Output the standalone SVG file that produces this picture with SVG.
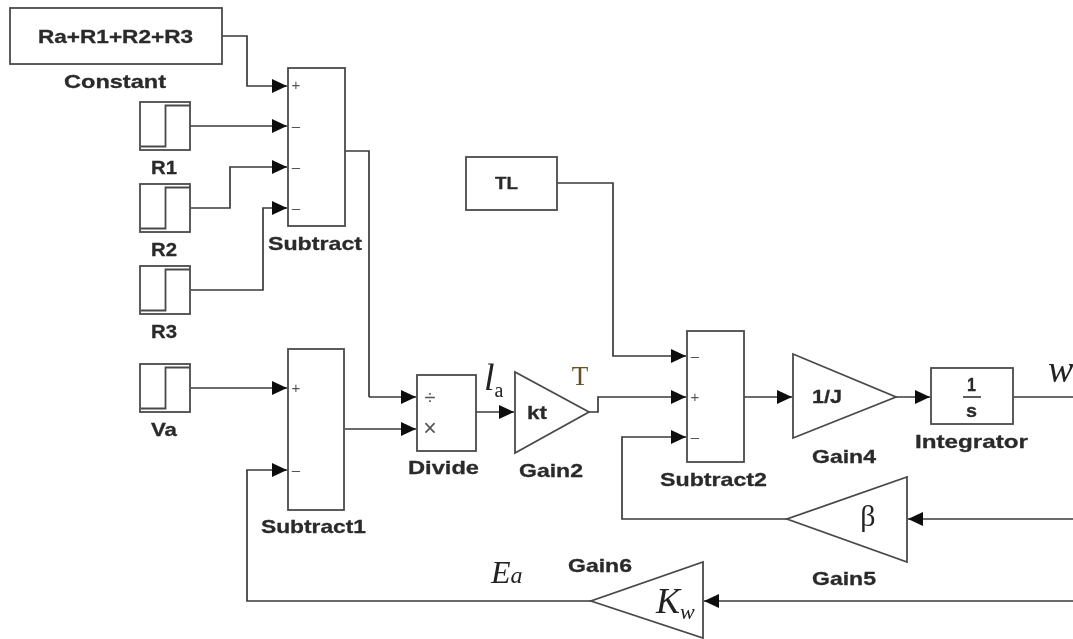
<svg xmlns="http://www.w3.org/2000/svg" width="1073" height="639" viewBox="0 0 1073 639">
<style>
.b{fill:#fff;stroke:#4a4a4a;stroke-width:1.8}
.i{fill:none;stroke:#4a4a4a;stroke-width:1.8}
.w{fill:none;stroke:#3a3a3a;stroke-width:1.7}
.l{font-family:"Liberation Sans",Arial,sans-serif;font-weight:bold;font-size:19px;fill:#2a2a2a;stroke:#2a2a2a;stroke-width:.3}
.s{font-family:"Liberation Sans",Arial,sans-serif;font-size:15px;fill:#555;text-anchor:middle}
.m{font-family:"Liberation Serif","Times New Roman",serif;fill:#222}
</style>
<defs>
<filter id="soft" filterUnits="userSpaceOnUse" x="0" y="0" width="1073" height="639"><feGaussianBlur stdDeviation="0.35"/></filter>
<marker id="a" markerUnits="userSpaceOnUse" markerWidth="16" markerHeight="14" refX="15" refY="7" orient="auto"><path d="M0 0L15 7L0 14Z" fill="#111"/></marker>
<g id="step"><rect class="b" x="0" y="0" width="50" height="48"/><path class="i" d="M1 44.5H25.5V3.5H50"/></g>
</defs>
<rect width="1073" height="639" fill="#fff"/>
<g filter="url(#soft)">
<g id="connectors">
<path class="w" marker-end="url(#a)" d="M222 36H247V86H287"/>
<path class="w" marker-end="url(#a)" d="M190 126H287"/>
<path class="w" marker-end="url(#a)" d="M191 208H230V167H287"/>
<path class="w" marker-end="url(#a)" d="M191 290H263V208H287"/>
<path class="w" d="M345 151H369V397"/>
<path class="w" marker-end="url(#a)" d="M369 397H416"/>
<path class="w" marker-end="url(#a)" d="M191 388H287"/>
<path class="w" marker-end="url(#a)" d="M345 429H416"/>
<path class="w" marker-end="url(#a)" d="M591 601H247V470H287"/>
<path class="w" marker-end="url(#a)" d="M476 412H514"/>
<path class="w" marker-end="url(#a)" d="M589 412H598V397H686"/>
<path class="w" marker-end="url(#a)" d="M557 183H613V356H686"/>
<path class="w" marker-end="url(#a)" d="M787 519H622V437H686"/>
<path class="w" marker-end="url(#a)" d="M744 397H792"/>
<path class="w" marker-end="url(#a)" d="M896 397H930"/>
<path class="w" d="M1013 397H1073"/>
<path class="w" marker-end="url(#a)" d="M1073 519H908"/>
<path class="w" marker-end="url(#a)" d="M1073 601H704"/>
</g>
<g id="constant"><rect class="b" x="10" y="8" width="212" height="56"/><text class="l" x="38" y="43" textLength="155" lengthAdjust="spacingAndGlyphs">Ra+R1+R2+R3</text><text class="l" x="64" y="88" textLength="102" lengthAdjust="spacingAndGlyphs">Constant</text></g>
<g id="r1"><use href="#step" x="140" y="102"/><text class="l" x="151" y="174" textLength="26" lengthAdjust="spacingAndGlyphs">R1</text></g>
<g id="r2"><use href="#step" x="140" y="184"/><text class="l" x="151" y="256" textLength="26" lengthAdjust="spacingAndGlyphs">R2</text></g>
<g id="r3"><use href="#step" x="140" y="266"/><text class="l" x="151" y="338" textLength="26" lengthAdjust="spacingAndGlyphs">R3</text></g>
<g id="va"><use href="#step" x="140" y="364"/><text class="l" x="151" y="436" textLength="26" lengthAdjust="spacingAndGlyphs">Va</text></g>
<g id="subtract"><rect class="b" x="288" y="68" width="57" height="158"/><text class="s" x="296" y="90">+</text><text class="s" x="296" y="131">–</text><text class="s" x="296" y="172">–</text><text class="s" x="296" y="213">–</text><text class="l" x="268" y="250" textLength="94" lengthAdjust="spacingAndGlyphs">Subtract</text></g>
<g id="subtract1"><rect class="b" x="288" y="349" width="56" height="161"/><text class="s" x="296" y="393">+</text><text class="s" x="296" y="475">–</text><text class="l" x="261" y="533" textLength="105" lengthAdjust="spacingAndGlyphs">Subtract1</text></g>
<g id="divide"><rect class="b" x="417" y="375" width="59" height="76"/><text class="s" x="430" y="404" style="font-size:20px">÷</text><text class="s" x="430" y="436" style="font-size:23px">×</text><text class="l" x="408" y="474" textLength="71" lengthAdjust="spacingAndGlyphs">Divide</text></g>
<g id="gain2"><path class="b" d="M515 372V453L589 412Z"/><text class="l" x="527" y="419" textLength="20" lengthAdjust="spacingAndGlyphs">kt</text><text class="l" x="519" y="477" textLength="64" lengthAdjust="spacingAndGlyphs">Gain2</text></g>
<g id="tl"><rect class="b" x="466" y="157" width="91" height="53"/><text class="l" x="495" y="189" textLength="23" lengthAdjust="spacingAndGlyphs" style="font-size:17px">TL</text></g>
<g id="subtract2"><rect class="b" x="687" y="331" width="57" height="131"/><text class="s" x="695" y="361">–</text><text class="s" x="695" y="402">+</text><text class="s" x="695" y="442">–</text><text class="l" x="660" y="486" textLength="107" lengthAdjust="spacingAndGlyphs">Subtract2</text></g>
<g id="gain4"><path class="b" d="M793 354V438L896 397Z"/><text class="l" x="812" y="403" textLength="30" lengthAdjust="spacingAndGlyphs">1/J</text><text class="l" x="812" y="463" textLength="64" lengthAdjust="spacingAndGlyphs">Gain4</text></g>
<g id="integrator"><rect class="b" x="931" y="368" width="82" height="56"/><text class="l" x="967" y="391" textLength="9" lengthAdjust="spacingAndGlyphs">1</text><path class="i" d="M963 397H981"/><text class="l" x="966" y="417" textLength="11" lengthAdjust="spacingAndGlyphs">s</text><text class="l" x="915" y="448" textLength="113" lengthAdjust="spacingAndGlyphs">Integrator</text></g>
<g id="gain5"><path class="b" d="M907 477V562L787 519Z"/><text class="m" x="868" y="526" font-size="30" text-anchor="middle">β</text><text class="l" x="812" y="585" textLength="64" lengthAdjust="spacingAndGlyphs">Gain5</text></g>
<g id="gain6"><path class="b" d="M703 562V638L591 601Z"/><text class="m" x="656" y="613" font-size="36" font-style="italic">K<tspan font-size="22" dy="6">w</tspan></text><text class="l" x="568" y="572" textLength="64" lengthAdjust="spacingAndGlyphs">Gain6</text></g>
<g id="labels">
<text class="m" x="484" y="390" font-size="38" font-style="italic">l<tspan font-size="20" font-style="normal" dy="7">a</tspan></text>
<text class="m" x="580" y="385" font-size="27" style="fill:#6a4e20" text-anchor="middle">T</text>
<text class="m" x="1048" y="382" font-size="38" font-style="italic">w</text>
<text class="m" x="491" y="583" font-size="32" font-style="italic">E<tspan font-size="24">a</tspan></text>
</g>
</g>
</svg>
